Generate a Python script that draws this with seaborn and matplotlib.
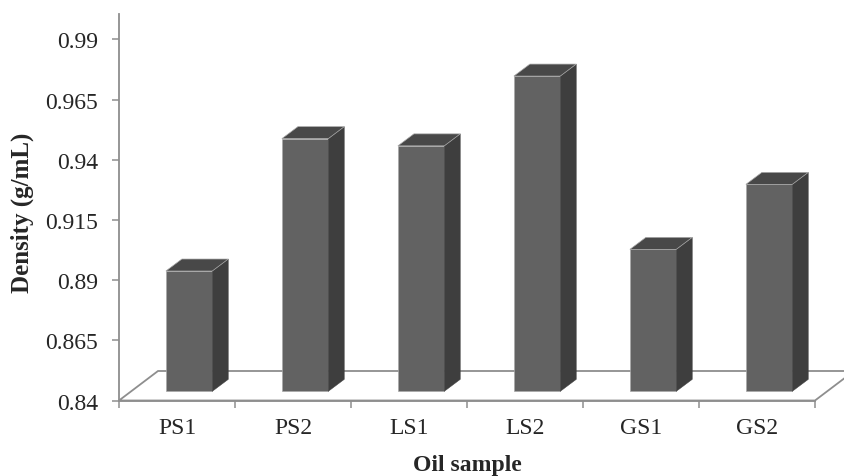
import numpy as np
import matplotlib
matplotlib.use("Agg")
import matplotlib.pyplot as plt
from matplotlib.patches import Polygon
import seaborn as sns

# ---- data ----
samples = ["PS1", "PS2", "LS1", "LS2", "GS1", "GS2"]
density = [0.890, 0.945, 0.942, 0.971, 0.899, 0.926]
ytick_values = [0.84, 0.865, 0.89, 0.915, 0.94, 0.965, 0.99]
ytick_labels = ["0.84", "0.865", "0.89", "0.915", "0.94", "0.965", "0.99"]

sns.set_style("white")
plt.rcParams["font.family"] = ["Liberation Serif", "DejaVu Serif"]

W, H = 844, 477
fig = plt.figure(figsize=(W / 100, H / 100), dpi=100)
L, R, T, B = 119, 815, 15, 401.5
ax = fig.add_axes([L / W, 1 - B / H, (R - L) / W, (B - T) / H])

base = 0.84
px_per_unit = 2406.7
ymax = base + (B - T) / px_per_unit
cat_px = (R - L) / 6.0

# 3D geometry (in data units)
full_dx = 39 / cat_px
full_dy = 29.5 / px_per_unit
front_dx, front_dy = 0.31 * full_dx, 0.31 * full_dy
bar_dx, bar_dy = 16 / cat_px, 12 / px_per_unit

front_c = "#626262"
side_c = "#3e3e3e"
top_c = "#484848"
edge_c = "#a8a8a8"
axis_c = "#8e8e8e"

# floor (drawn behind bars)
floor = Polygon([(-0.5, base), (5.5, base), (5.5 + full_dx, base + full_dy),
                 (-0.5 + full_dx, base + full_dy)], closed=True,
                facecolor="white", edgecolor=axis_c, lw=1.3, zorder=0.5,
                clip_on=False)
ax.add_patch(floor)

sns.barplot(x=samples, y=density, color=front_c, saturation=1, width=0.4,
            ax=ax, zorder=2, edgecolor=edge_c, linewidth=0.5)

ax.set_xlim(-0.5, 5.5)
ax.set_ylim(base, ymax)

for p in list(ax.patches):
    if p is floor:
        continue
    x0 = p.get_x()
    w = p.get_width()
    v = p.get_height()
    xf = x0 + front_dx
    yb = base + front_dy
    yt = v + front_dy
    p.set_xy((xf, yb))
    p.set_height(v - base)
    p.set_clip_on(False)
    side = Polygon([(xf + w, yb), (xf + w + bar_dx, yb + bar_dy),
                    (xf + w + bar_dx, yt + bar_dy), (xf + w, yt)], closed=True,
                   facecolor=side_c, edgecolor=side_c, lw=0.3, zorder=2,
                   clip_on=False)
    top = Polygon([(xf, yt), (xf + w, yt), (xf + w + bar_dx, yt + bar_dy),
                   (xf + bar_dx, yt + bar_dy)], closed=True,
                  facecolor=top_c, edgecolor=edge_c, lw=0.5, zorder=2.1,
                  clip_on=False)
    ax.add_patch(side)
    ax.add_patch(top)

# axes styling
for s in ["top", "right"]:
    ax.spines[s].set_visible(False)
for s in ["left", "bottom"]:
    ax.spines[s].set_color(axis_c)
    ax.spines[s].set_linewidth(1.3)
    ax.spines[s].set_zorder(1)

ax.set_yticks(ytick_values)
ax.set_yticklabels(ytick_labels)
ax.tick_params(axis="y", which="major", direction="out", length=5, width=1.1,
               color=axis_c, pad=10, labelsize=17, left=True)

ax.set_xticks(np.arange(-0.5, 6, 1))
ax.set_xticklabels([""] * 7)
ax.set_xticks(np.arange(len(samples)), minor=True)
ax.set_xticklabels(samples, minor=True)
ax.tick_params(axis="x", which="major", direction="out", length=5, width=1.1,
               color=axis_c, bottom=True)
ax.tick_params(axis="x", which="minor", length=0, pad=12, labelsize=17)

ax.set_xlabel("Oil sample", fontsize=17, fontweight="bold")
ax.set_ylabel("Density (g/mL)", fontsize=18, fontweight="bold")
ax.xaxis.label.set_va("center")
ax.yaxis.label.set_va("center")
ax.xaxis.set_label_coords(0.5, (B - 466) / (B - T))
ax.yaxis.set_label_coords((22 - L) / (R - L), (B - 213) / (B - T))

ax.grid(False)
ax.set_facecolor("none")
fig.savefig("out.png", dpi=100)
